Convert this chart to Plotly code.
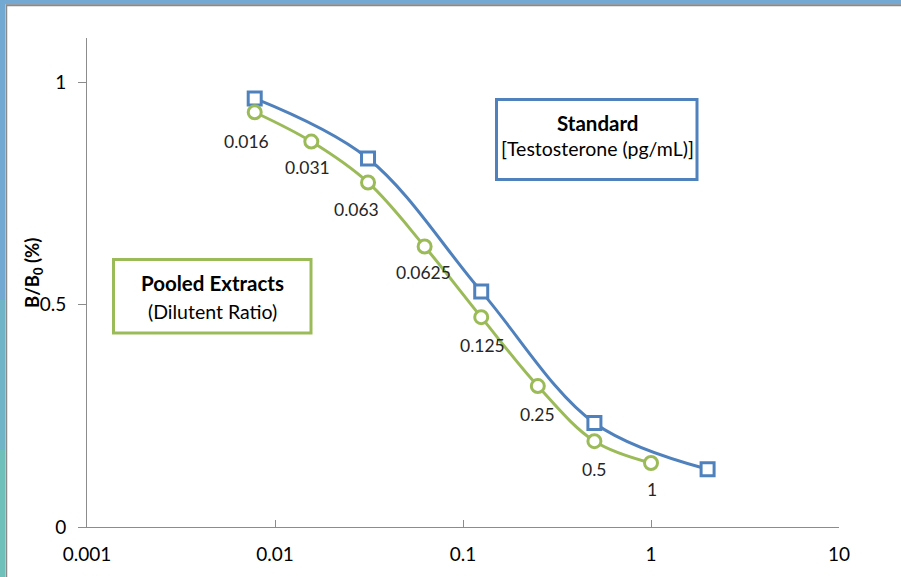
import math
import plotly.graph_objects as go

# ---- data ----
std_x = [0.0078, 0.03125, 0.125, 0.5, 2.0]
std_y = [0.964, 0.829, 0.530, 0.234, 0.130]

pool_x = [0.0078, 0.0156, 0.03125, 0.0625, 0.125, 0.25, 0.5, 1.0]
pool_y = [0.933, 0.867, 0.775, 0.631, 0.472, 0.317, 0.193, 0.144]
pool_labels = ["0.016", "0.031", "0.063", "0.0625", "0.125", "0.25", "0.5", "1"]

x_tickvals = [0.001, 0.01, 0.1, 1, 10]
x_ticktext = ["0.001", "0.01", "0.1", "1", "10"]
y_tickvals = [0, 0.5, 1]
y_ticktext = ["0", "0.5", "1"]

# ---- style ----
W, H = 901, 577
L, R, T, B = 87, 839, 38, 527
BLUE = "#4F81BD"
GREEN = "#9BBB59"
FONT = "Lato"
label_dx = [-8, -4, -12, -1, 1, 0, 0, 1]
label_dy = [29, 26, 27, 26, 28, 28, 28, 27]


def px(p):
    return (p - L) / (R - L)


def py(p):
    return (B - p) / (B - T)


fig = go.Figure()
fig.add_trace(go.Scatter(
    x=std_x, y=std_y, mode="lines+markers", name="Standard",
    line=dict(color=BLUE, width=3, shape="spline", smoothing=1.0),
    marker=dict(symbol="square", size=13, color="white", line=dict(color=BLUE, width=3)),
    cliponaxis=False,
))
fig.add_trace(go.Scatter(
    x=pool_x, y=pool_y, mode="lines+markers", name="Pooled Extracts",
    line=dict(color=GREEN, width=3, shape="spline", smoothing=1.0),
    marker=dict(symbol="circle", size=13, color="white", line=dict(color=GREEN, width=3)),
    cliponaxis=False,
))

annotations = []
for xv, yv, t, dx, dy in zip(pool_x, pool_y, pool_labels, label_dx, label_dy):
    annotations.append(dict(
        x=math.log10(xv), y=yv, xref="x", yref="y", text=t, showarrow=False,
        xanchor="center", yanchor="middle",
        xshift=dx, yshift=-dy, font=dict(family=FONT, size=17.5, color="#262626"),
    ))


def txt(x, y, text, size, angle=0):
    return dict(x=px(x), y=py(y), xref="paper", yref="paper", text=text,
                showarrow=False, xanchor="center", yanchor="middle", textangle=angle,
                font=dict(family=FONT, size=size, color="#000000"))


annotations += [
    txt(33, 273, "<b>B/B<sub>0</sub> (%)</b>", 18.5, -90),
    txt(597, 123, "<b>Standard</b>", 20.5),
    txt(597, 148, "[Testosterone (pg/mL)]", 19.5),
    txt(212, 283, "<b>Pooled Extracts</b>", 20.5),
    txt(212, 311, "(Dilutent Ratio)", 19.5),
]

shapes = [
    # window frame
    dict(type="rect", xref="paper", yref="paper", x0=px(0), x1=px(W), y0=py(-2), y1=py(4.5),
         fillcolor="#74A9D3", line=dict(width=0), layer="above"),
    dict(type="line", xref="paper", yref="paper", x0=px(6), x1=px(W), y0=py(5.2), y1=py(5.2),
         line=dict(color="#8A8A8A", width=2), layer="above"),
    dict(type="rect", xref="paper", yref="paper", x0=px(0), x1=px(5.5), y0=py(0), y1=py(300),
         fillcolor="#72A9D2", line=dict(width=0), layer="above"),
    dict(type="rect", xref="paper", yref="paper", x0=px(0), x1=px(5.5), y0=py(300), y1=py(450),
         fillcolor="#70B4C8", line=dict(width=0), layer="above"),
    dict(type="rect", xref="paper", yref="paper", x0=px(0), x1=px(5.5), y0=py(450), y1=py(H),
         fillcolor="#6FC0BA", line=dict(width=0), layer="above"),
    dict(type="line", xref="paper", yref="paper", x0=px(6.5), x1=px(6.5), y0=py(5), y1=py(H),
         line=dict(color="#8A8A8A", width=1.5), layer="above"),
    # boxes
    dict(type="rect", xref="paper", yref="paper", x0=px(496.5), x1=px(697), y0=py(99.5), y1=py(179.5),
         fillcolor="white", line=dict(color=BLUE, width=3)),
    dict(type="rect", xref="paper", yref="paper", x0=px(113.5), x1=px(311), y0=py(259.5), y1=py(333),
         fillcolor="white", line=dict(color=GREEN, width=3)),
]

fig.update_layout(
    width=W, height=H,
    margin=dict(l=L, r=W - R, t=T, b=H - B, pad=0),
    paper_bgcolor="white", plot_bgcolor="white",
    showlegend=False,
    font=dict(family=FONT, color="#000000"),
    annotations=annotations,
    shapes=shapes,
)
fig.update_xaxes(
    type="log", range=[-3, 1],
    tickvals=x_tickvals, ticktext=x_ticktext,
    showgrid=False, zeroline=False,
    showline=True, linecolor="#8C8C8C", linewidth=1,
    ticks="inside", ticklen=7, tickcolor="#8C8C8C", tickwidth=1,
    tickfont=dict(family=FONT, size=19, color="#000000"),
    ticklabelstandoff=10,
)
fig.update_yaxes(
    range=[0, 1.1],
    tickvals=y_tickvals, ticktext=y_ticktext,
    showgrid=False, zeroline=False,
    showline=True, linecolor="#8C8C8C", linewidth=1,
    ticks="outside", ticklen=8, tickcolor="#8C8C8C", tickwidth=1,
    tickfont=dict(family=FONT, size=19, color="#000000"),
    ticklabelstandoff=8,
)

fig.write_html(
    "out.html",
    config={"displayModeBar": False},
    post_script="document.body.style.margin='0';document.body.style.overflow='hidden';",
)
